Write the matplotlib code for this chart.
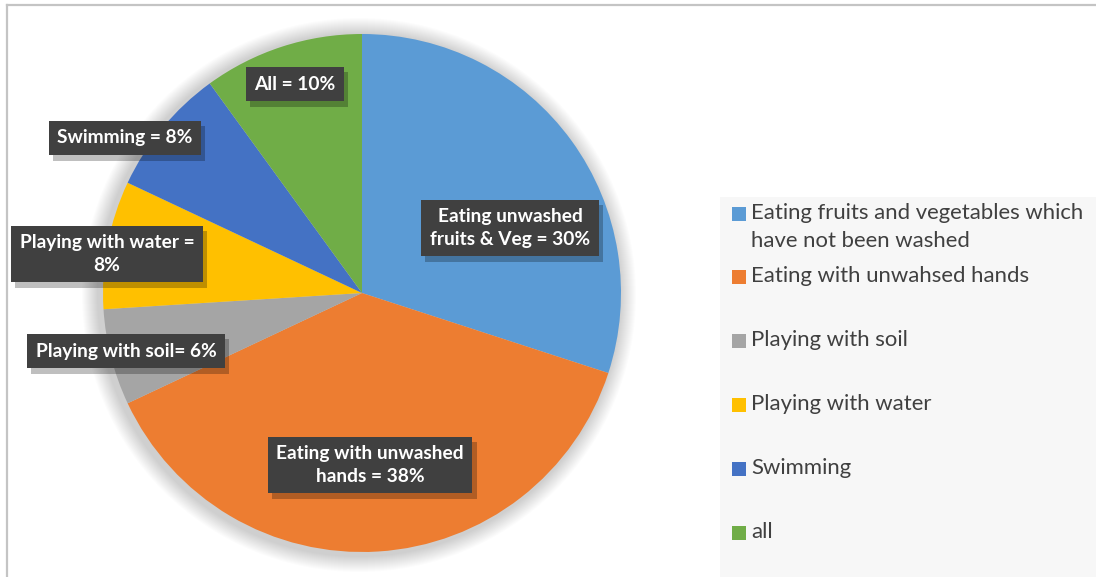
import matplotlib
matplotlib.use("Agg")
import matplotlib.pyplot as plt
from matplotlib.patches import Rectangle, Circle
from matplotlib.lines import Line2D
import matplotlib.patheffects as pe

# ---- data ----
categories = ["Eating fruits and vegetables which\nhave not been washed",
              "Eating with unwahsed hands",
              "Playing with soil",
              "Playing with water",
              "Swimming",
              "all"]
values = [30, 38, 6, 8, 8, 10]
slice_labels = ["Eating unwashed\nfruits & Veg = 30%",
                "Eating with unwashed\nhands = 38%",
                "Playing with soil= 6%",
                "Playing with water =\n8%",
                "Swimming = 8%",
                "All = 10%"]
colors = ["#5B9BD5", "#ED7D31", "#A5A5A5", "#FFC000", "#4472C4", "#70AD47"]

# ---- layout (pixels, origin top-left) ----
W, H = 1096, 577
label_pos = [(510, 228), (370, 465), (126, 351), (107, 254), (125, 138), (295, 84)]
legend_y = [214, 277, 341, 405, 469, 533]
cx, cy, R = 362, 293, 259

fig = plt.figure(figsize=(W / 100, H / 100), dpi=100)
fig.patch.set_facecolor("white")
ax = fig.add_axes([0, 0, 1, 1])
ax.set_xlim(0, W)
ax.set_ylim(0, H)
ax.set_aspect("equal")
ax.axis("off")

def Y(y):
    return H - y

# figure border (top + left)
ax.add_line(Line2D([7, 7], [Y(5), Y(H + 5)], color="#c4c4c4", lw=1.6))
ax.add_line(Line2D([7, W + 5], [Y(5), Y(5)], color="#c4c4c4", lw=1.6))

# legend background
ax.add_patch(Rectangle((720, 0), W - 720, Y(197), facecolor="#f7f7f7", edgecolor="none", zorder=0))

# soft shadow behind pie
for i in range(16):
    ax.add_patch(Circle((cx - 3, Y(cy) - 2), R + 18 - i, facecolor="black", alpha=0.011,
                        edgecolor="none", zorder=1))

wedges, _ = ax.pie(values, colors=colors, startangle=90, counterclock=False,
                   center=(cx, Y(cy)), radius=R, wedgeprops=dict(linewidth=0),
                   frame=True)
for w in wedges:
    w.set_zorder(2)
ax.set_xlim(0, W)
ax.set_ylim(0, H)
ax.axis("off")

lab_font = dict(family=["Lato", "DejaVu Sans"], weight="bold", size=13.8)
for txt, (x, y) in zip(slice_labels, label_pos):
    t = ax.text(x, Y(y), txt, ha="center", va="center", color="white",
                linespacing=1.4, zorder=4, **lab_font,
                bbox=dict(boxstyle="square,pad=0.45", facecolor="#404040",
                          edgecolor="none", linewidth=0))
    t.get_bbox_patch().set_path_effects([
        pe.SimplePatchShadow(offset=(3, -4), shadow_rgbFace="black", alpha=0.25),
        pe.Normal()])

# legend
for cat, col, y in zip(categories, colors, legend_y):
    ax.add_patch(Rectangle((732, Y(y) - 7), 14, 14, facecolor=col, edgecolor="none", zorder=3))
    for k, line in enumerate(cat.split("\n")):
        ax.text(751, Y(y + 28 * k) + 1, line, ha="left", va="center", color="#404040",
                family=["Lato", "DejaVu Sans"], size=15.9, zorder=3)

fig.savefig("out.png", dpi=100, facecolor="white")
